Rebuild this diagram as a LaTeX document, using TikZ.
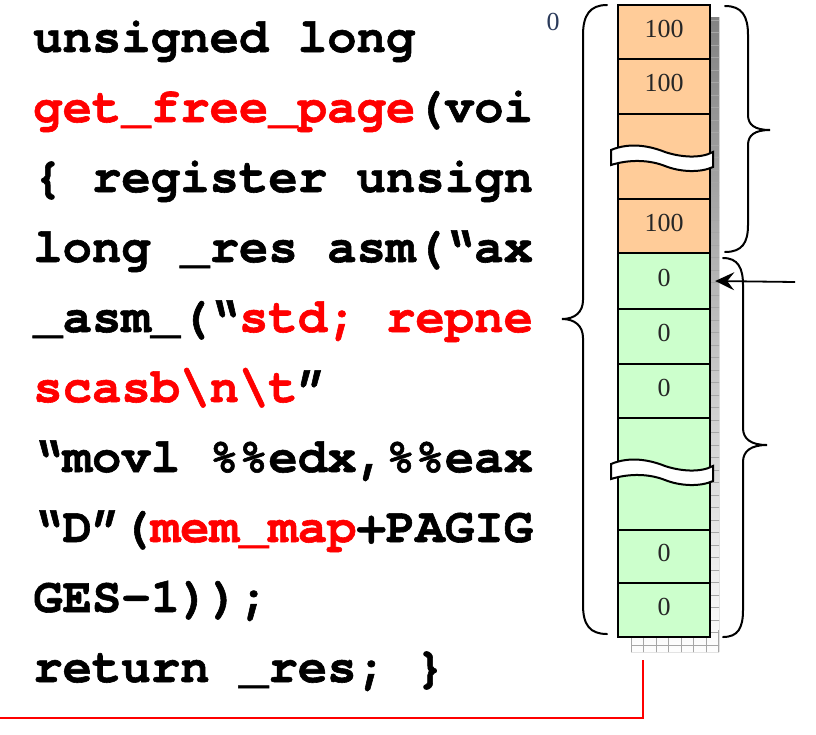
\documentclass[tikz,border=0pt]{standalone}
\usepackage{fontspec}
\setmainfont{Liberation Serif}
\newfontfamily\codefont{texgyrecursor}[Extension=.otf, UprightFont=*-regular, BoldFont=*-bold, BoldFeatures={FakeBold=1.2}]
\usetikzlibrary{arrows.meta}
\definecolor{peach}{HTML}{FFCC99}
\definecolor{mint}{HTML}{CCFFCC}
\definecolor{codered}{HTML}{FF0000}
\definecolor{shade}{HTML}{C0C0C0}
\definecolor{shadegrid}{HTML}{A6A6A6}
\definecolor{numcol}{HTML}{262626}
\definecolor{addrcol}{HTML}{2A3A5A}
\newcommand\hlred[1]{\textcolor{codered}{#1}}
\newcommand\myBreak[1]{%
  \path[breakband] (611,#1-8) .. controls (630,#1-16) and (650,#1-12) .. (665,#1-6)
    .. controls (680,#1-1) and (700,#1+1) .. (713,#1-6) -- (713,#1+9)
    .. controls (700,#1+15) and (680,#1+14) .. (665,#1+8)
    .. controls (650,#1+2) and (630,#1+1) .. (611,#1+7) -- cycle;}
\begin{document}
\begin{tikzpicture}[x=1pt,y=-1pt,
  code/.style={anchor=base west, inner sep=0pt, font=\codefont\bfseries\fontsize{49}{56}\selectfont\frenchspacing},
  cellbox/.style={draw=black, line width=2.4pt, minimum width=92pt, inner sep=0pt},
  orangecell/.style={cellbox, fill=peach},
  greencell/.style={cellbox, fill=mint},
  num/.style={font=\fontsize{26}{30}\selectfont, text=numcol, inner sep=0pt, yshift=3.5pt},
  addr/.style={font=\fontsize{26}{30}\selectfont, text=addrcol, inner sep=0pt},
  brace/.style={line width=2pt, line cap=round},
  breakband/.style={fill=white, draw=black, line width=2pt},
  pointer/.style={line width=1.8pt, -{Stealth[length=19pt,width=18pt,inset=7pt]}},
  redline/.style={draw=codered, line width=1.6pt}]
\useasboundingbox (0,0) rectangle (816,734);

% code text
\node[code] (l1) at (33,52) {unsigned long};
\node[code] (l2) at (33,122) {\hlred{get\_free\_page}(voi};
\node[code] (l3) at (33,192) {\{ register unsign};
\node[code] (l4) at (33,262) {long \_res asm(“ax};
\node[code] (l5) at (33,332) {\_asm\_(“\hlred{std; repne}};
\node[code] (l6) at (33,402) {\hlred{scasb\textbackslash n\textbackslash t}”};
\node[code] (l7) at (33,472) {“movl \%\%edx,\%\%eax};
\node[code] (l8) at (33,542) {“D”(\hlred{mem\_map}+PAGIG};
\node[code] (l9) at (33,612) {GES-1));};
\node[code] (l10) at (33,682) {return \_res; \}};

% shadow
\begin{scope}
  \clip (710,17) -- (719,17) -- (719,652) -- (631,652) -- (631,637) -- (710,637) -- cycle;
  \fill[shade] (600,0) rectangle (730,660);
  \foreach \yy in {20,32.5,...,650} \draw[shadegrid, line width=0.6pt] (620,\yy) -- (725,\yy);
  \foreach \xx in {631,643.5,...,720} \draw[shadegrid, line width=0.6pt] (\xx,630) -- (\xx,655);
\end{scope}

% memory cells
\node[orangecell, minimum height=54pt, label={[num]center:100}] (c1) at (664,32) {};
\node[orangecell, minimum height=55pt, label={[num]center:100}] (c2) at (664,86.5) {};
\node[orangecell, minimum height=85pt] (c3) at (664,156.5) {};
\node[orangecell, minimum height=54pt, label={[num]center:100}] (c4) at (664,226) {};
\node[greencell, minimum height=56pt, label={[num]center:0}] (g1) at (664,281) {};
\node[greencell, minimum height=55pt, label={[num]center:0}] (g2) at (664,336.5) {};
\node[greencell, minimum height=54pt, label={[num]center:0}] (g3) at (664,391) {};
\node[greencell, minimum height=112pt] (g4) at (664,474) {};
\node[greencell, minimum height=53pt, label={[num]center:0}] (g5) at (664,556.5) {};
\node[greencell, minimum height=54pt, label={[num]center:0}] (g6) at (664,610) {};

\myBreak{158}
\myBreak{472}

% braces
\draw[brace] (607,5) .. controls (590,5) and (583,15) .. (583,35) -- (583,300)
  .. controls (583,312) and (575,319) .. (562,319)
  .. controls (575,319) and (583,326) .. (583,338) -- (583,605)
  .. controls (583,625) and (590,634) .. (607,634);
\draw[brace] (725,6) .. controls (742,6) and (748,16) .. (748,35) -- (748,115)
  .. controls (748,125) and (755,130) .. (770,130)
  .. controls (755,130) and (748,135) .. (748,145) -- (748,225)
  .. controls (748,243) and (742,252) .. (725,252);
\draw[brace] (723,258) .. controls (738,258) and (743,268) .. (743,285) -- (743,428)
  .. controls (743,439) and (751,445) .. (767,445)
  .. controls (751,445) and (743,451) .. (743,462) -- (743,610)
  .. controls (743,628) and (738,637) .. (723,637);

% address label
\node[addr] (a0) at (553,22) {0};

% pointer arrow
\coordinate (ptr) at (795,282);
\draw[pointer] (ptr) -- ([xshift=4pt]g1.east);

% red frame line
\coordinate (r1) at (643,660);
\coordinate (r2) at (0,718);
\draw[redline] (r1) |- (r2);
\end{tikzpicture}
\end{document}
